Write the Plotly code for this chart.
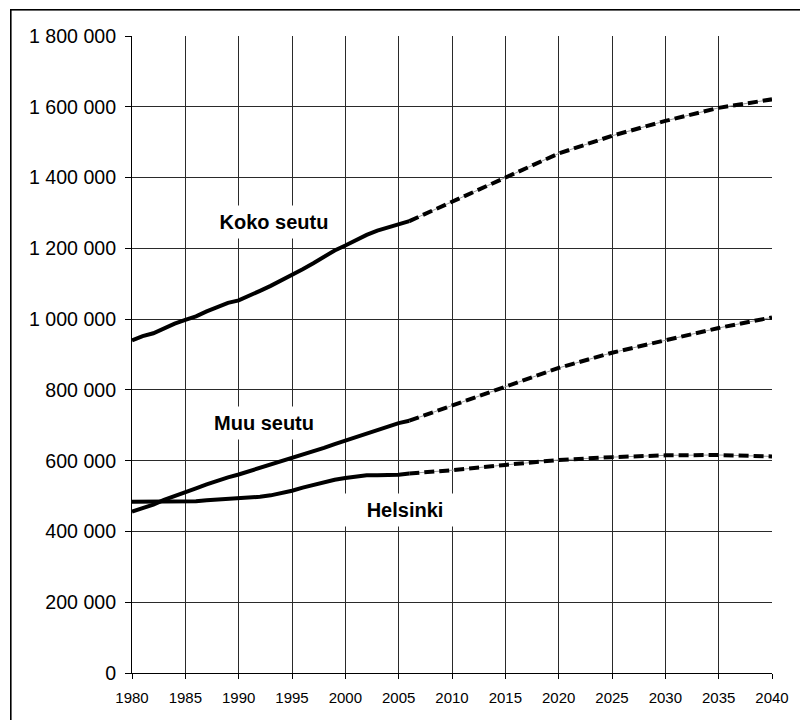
import plotly.graph_objects as go

# ---- data (population) ----
years_hist = list(range(1980, 2007))
koko_hist = [940000, 952000, 960000, 975000, 987000, 998000, 1008000, 1022000, 1035000,
             1046000, 1053000, 1065000, 1080000, 1094000, 1109000, 1125000, 1141000,
             1158000, 1177000, 1194000, 1208000, 1224000, 1238000, 1250000, 1259000,
             1266000, 1277000]
muu_hist = [456000, 466000, 476000, 489000, 501000, 511000, 522000, 533000, 544000,
            553000, 561000, 570000, 580000, 590000, 599000, 608000, 616000, 625000,
            636000, 647000, 657000, 668000, 679000, 689000, 699000, 706000, 713000]
hel_hist = [484000, 484000, 484000, 484000, 484000, 485000, 485000, 488000, 490000,
            491000, 492000, 494000, 498000, 502000, 508000, 515000, 524000, 532000,
            539000, 546000, 551000, 556000, 559000, 559000, 559000, 560000, 564000]

years_proj = [2006, 2010, 2015, 2020, 2025, 2030, 2035, 2040]
koko_proj = [1277000, 1331000, 1400000, 1468000, 1518000, 1560000, 1597000, 1621000]
muu_proj = [713000, 755000, 808000, 862000, 905000, 940000, 975000, 1005000]
hel_proj = [564000, 573000, 588000, 602000, 610000, 615000, 616000, 612000]

labels = ["Koko seutu", "Muu seutu", "Helsinki"]
label_x = [1993.3, 1992.4, 2005.6]
label_y = [1274000, 706000, 461000]

x_ticks = list(range(1980, 2041, 5))
y_ticks = list(range(0, 1800001, 200000))

fig = go.Figure()

series = [(koko_hist, koko_proj), (muu_hist, muu_proj), (hel_hist, hel_proj)]
for name, (h, p) in zip(labels, series):
    fig.add_trace(go.Scatter(x=years_proj, y=p, mode="lines",
                             line=dict(color="#9a9a9a", width=1),
                             hoverinfo="skip", showlegend=False))
    fig.add_trace(go.Scatter(x=years_proj, y=p, mode="lines", name=name + " ennuste",
                             line=dict(color="black", width=4, dash="10px,5px"),
                             showlegend=False))
    fig.add_trace(go.Scatter(x=years_hist, y=h, mode="lines", name=name,
                             line=dict(color="black", width=4),
                             showlegend=False))

for t, x, y in zip(labels, label_x, label_y):
    fig.add_annotation(x=x, y=y, text="<b>" + t + "</b>", showarrow=False,
                       font=dict(size=20, color="black", family="Liberation Sans, Arial"),
                       bgcolor="white", width=130, height=30, xanchor="center",
                       yanchor="middle")

# figure is placed 8px into the page; plot area spans 124..764 x 28..665 in figure px
L, T, PW, PH = 124, 28, 640, 637
# outer frame drawn as an empty bordered annotation (figure px 2..793 x 0..~730)
fig.add_annotation(xref="paper", yref="paper",
                   x=(2 - L) / PW, y=1 + (T - 0.5) / PH,
                   xanchor="left", yanchor="top", text=" ", showarrow=False,
                   width=791, height=740, borderwidth=1.6, bordercolor="black",
                   borderpad=0, bgcolor="rgba(0,0,0,0)", align="left", valign="top")

fig.update_layout(
    width=800, height=712,
    margin=dict(l=L, r=800 - L - PW, t=T, b=712 - T - PH),
    paper_bgcolor="white", plot_bgcolor="white",
    separators=", ",
    font=dict(family="Liberation Sans, Arial", color="black"),
    xaxis=dict(range=[1980, 2040], tickvals=x_ticks, ticks="outside", ticklen=5,
               tickcolor="black", showline=True, linecolor="black", linewidth=1,
               showgrid=True, gridcolor="#2a2a2a", gridwidth=1, zeroline=False,
               tickfont=dict(size=15), ticklabelstandoff=6),
    yaxis=dict(range=[0, 1800000], tickvals=y_ticks, tickformat=",d", ticks="outside",
               ticklen=6, tickcolor="black", showline=True, linecolor="black",
               linewidth=1, showgrid=True, gridcolor="#2a2a2a", gridwidth=1,
               zeroline=False, tickfont=dict(size=19.6), ticklabelstandoff=5),
)

fig.write_html("out.html")
